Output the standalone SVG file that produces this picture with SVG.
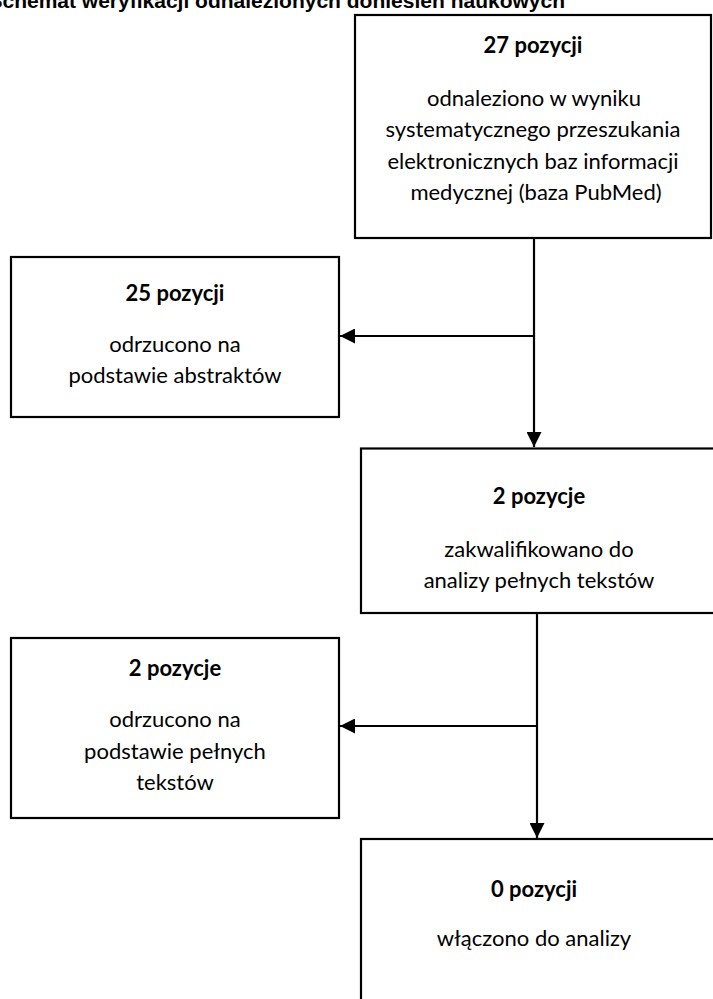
<svg xmlns="http://www.w3.org/2000/svg" width="713" height="999" viewBox="0 0 713 999">
<style>
.box{fill:#fff;stroke:#000;stroke-width:2.2}
.t{font-family:Lato,"Open Sans","DejaVu Sans",sans-serif;font-size:22px;fill:#000;text-anchor:middle}
.h{font-weight:bold}
.title{font-family:"Liberation Sans",Arial,sans-serif;font-size:21px;font-weight:bold;fill:#000}
.ln{fill:none;stroke:#000;stroke-width:2.2}
</style>
<defs>
<marker id="ah" viewBox="0 0 15 15" refX="15" refY="7.5" markerWidth="15" markerHeight="15" markerUnits="userSpaceOnUse" orient="auto">
<path d="M0,0 L15,7.5 L0,15 Z" fill="#000"/>
</marker>
</defs>
<rect width="713" height="999" fill="#fff"/>
<text class="title" x="565" y="7.5" text-anchor="end">Schemat weryfikacji odnalezionych doniesień naukowych</text>
<g id="connectors">
<path class="ln" d="M534,238 L534,447" marker-end="url(#ah)"/>
<path class="ln" d="M534,336 L340,336" marker-end="url(#ah)"/>
<path class="ln" d="M537,613 L537,838" marker-end="url(#ah)"/>
<path class="ln" d="M537,726 L340,726" marker-end="url(#ah)"/>
</g>
<g id="n27">
<rect class="box" x="355" y="15" width="356" height="223"/>
<text class="t h" x="533" y="53">27 pozycji</text>
<text class="t" x="534" y="106">odnaleziono w wyniku</text>
<text class="t" x="533" y="137">systematycznego przeszukania</text>
<text class="t" x="533" y="168.5">elektronicznych baz informacji</text>
<text class="t" x="536" y="200">medycznej (baza PubMed)</text>
</g>
<g id="n25">
<rect class="box" x="11" y="257" width="328" height="160"/>
<text class="t h" x="175" y="301">25 pozycji</text>
<text class="t" x="175" y="352">odrzucono na</text>
<text class="t" x="175" y="383">podstawie abstraktów</text>
</g>
<g id="n2a">
<rect class="box" x="361" y="448.5" width="370" height="164.5"/>
<text class="t h" x="539" y="504">2 pozycje</text>
<text class="t" x="539" y="557">zakwalifikowano do</text>
<text class="t" x="539" y="588">analizy pełnych tekstów</text>
</g>
<g id="n2b">
<rect class="box" x="11" y="638" width="328" height="180"/>
<text class="t h" x="175" y="676">2 pozycje</text>
<text class="t" x="175" y="727">odrzucono na</text>
<text class="t" x="175" y="759">podstawie pełnych</text>
<text class="t" x="175" y="790">tekstów</text>
</g>
<g id="n0">
<rect class="box" x="361" y="839" width="370" height="180"/>
<text class="t h" x="534" y="897">0 pozycji</text>
<text class="t" x="534" y="946">włączono do analizy</text>
</g>
</svg>
